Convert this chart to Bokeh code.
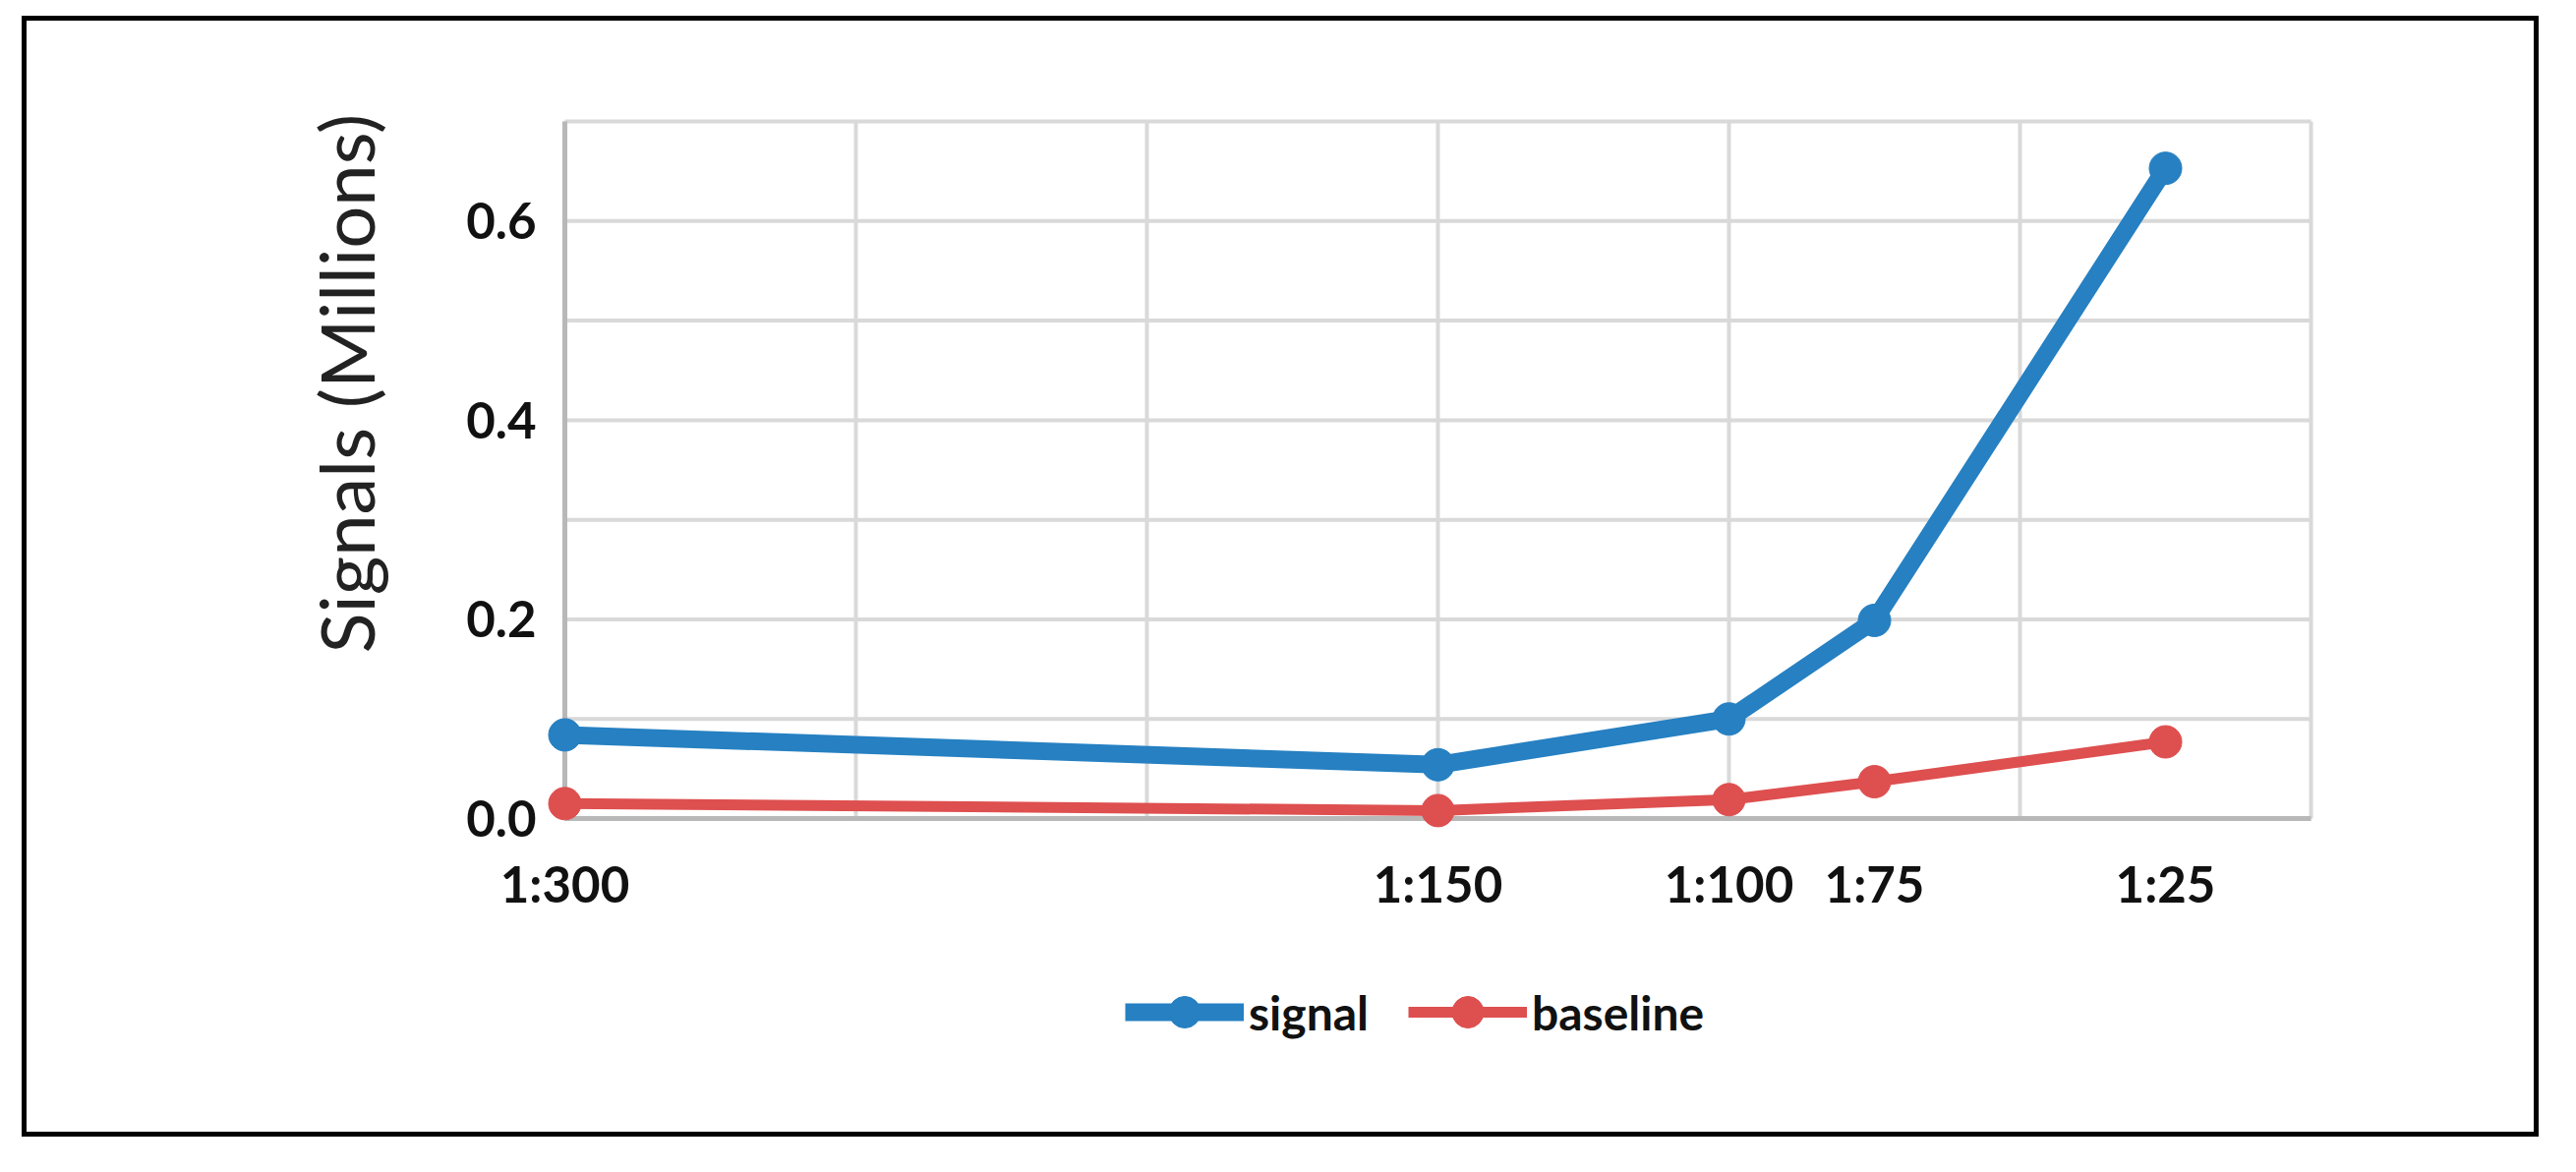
from bokeh.plotting import figure
from bokeh.models import Range1d, FixedTicker, Legend, LegendItem, Title
from bokeh.embed import file_html
from bokeh.resources import INLINE

# dilution series
dilutions = ["1:300", "1:150", "1:100", "1:75", "1:25"]
x_pos = [0, 3, 4, 4.5, 5.5]
signal = [0.084, 0.054, 0.100, 0.199, 0.653]
baseline = [0.015, 0.008, 0.019, 0.037, 0.077]

# axis / grid layout
grid_x = [0, 1, 2, 3, 4, 5, 6]
grid_y = [0.0, 0.1, 0.2, 0.3, 0.4, 0.5, 0.6, 0.7]
y_ticks = [0.0, 0.2, 0.4, 0.6]
y_labels = ["0.0", "0.2", "0.4", "0.6"]

colors = {
    'signal': '#2680c2',
    'baseline': '#de4f4f',
    'grid': '#d9d9d9',
    'axis': '#b8b8b8',
    'text': '#111111',
}

FONT = "Lato"

x_lo, x_hi = grid_x[0], grid_x[-1]
y_lo, y_hi = grid_y[0], grid_y[-1]

# the frame reaches left over the tick labels and down to the legend,
# both axes are pinned at 0 so nothing gets clipped
p = figure(width=2560, height=1140,
           x_range=Range1d(x_lo - 0.3615, x_hi + 0.0135),
           y_range=Range1d(y_lo - 0.2419, y_hi + 0.004),
           output_backend="svg",
           toolbar_location=None,
           tools="",
           min_border_left=440,
           min_border_right=233,
           min_border_top=98,
           min_border_bottom=84)
p.margin = (16, 0, 0, 22)
p.styles = {"border": "5px solid #000000"}
p.outline_line_color = None
p.xgrid.visible = False
p.ygrid.visible = False
p.background_fill_color = "white"
p.border_fill_color = "white"

# grid lines, drawn by hand so they stop at the axes
p.segment(x0=grid_x, y0=[y_lo] * len(grid_x), x1=grid_x, y1=[y_hi] * len(grid_x),
          line_color=colors['grid'], line_width=4)
p.segment(x0=[x_lo] * len(grid_y), y0=grid_y, x1=[x_hi] * len(grid_y), y1=grid_y,
          line_color=colors['grid'], line_width=4)
# axis lines
p.segment(x0=[x_lo, x_lo], y0=[y_lo, y_lo], x1=[x_lo, x_hi], y1=[y_hi, y_lo],
          line_color=colors['axis'], line_width=5)

sig_line = p.line(x_pos, signal, line_color=colors['signal'], line_width=18,
                  line_join="round")
sig_pts = p.scatter(x_pos, signal, size=33, fill_color=colors['signal'],
                    line_color=colors['signal'])
base_line = p.line(x_pos, baseline, line_color=colors['baseline'], line_width=11,
                   line_join="round")
base_pts = p.scatter(x_pos, baseline, size=33, fill_color=colors['baseline'],
                     line_color=colors['baseline'])

for ax in (p.xaxis[0], p.yaxis[0]):
    ax.axis_line_color = None
    ax.major_tick_line_color = None
    ax.minor_tick_line_color = None
    ax.major_tick_out = 0
    ax.major_tick_in = 0
    ax.major_label_text_font = FONT
    ax.major_label_text_font_style = "bold"
    ax.major_label_text_font_size = "51px"
    ax.major_label_text_color = colors['text']

p.xaxis[0].fixed_location = y_lo
p.xaxis[0].ticker = FixedTicker(ticks=x_pos)
p.xaxis[0].major_label_overrides = dict(zip(x_pos, dilutions))
p.xaxis[0].major_label_standoff = 35

p.yaxis[0].fixed_location = x_lo
p.yaxis[0].ticker = FixedTicker(ticks=y_ticks)
p.yaxis[0].major_label_overrides = dict(zip(y_ticks, y_labels))
p.yaxis[0].major_label_standoff = 29

# y title starts 413px above the frame bottom, as in the source chart
ytitle = Title(text="Signals (Millions)", align="left", offset=413,
               vertical_align="bottom", standoff=142,
               text_font=FONT, text_font_style="normal",
               text_font_size="76px", text_color="#222222")
p.add_layout(ytitle, "left")

legend = Legend(items=[LegendItem(label="signal", renderers=[sig_line, sig_pts]),
                       LegendItem(label="baseline", renderers=[base_line, base_pts])],
                location=(677, 8),
                orientation="horizontal",
                padding=0, margin=0, spacing=40,
                glyph_width=121, glyph_height=80,
                label_standoff=5,
                label_text_font=FONT,
                label_text_font_style="bold",
                label_text_font_size="48px",
                label_text_color=colors['text'],
                border_line_color=None,
                background_fill_alpha=0)
p.add_layout(legend)

open("out.html", "w").write(file_html(p, INLINE, "signals"))
